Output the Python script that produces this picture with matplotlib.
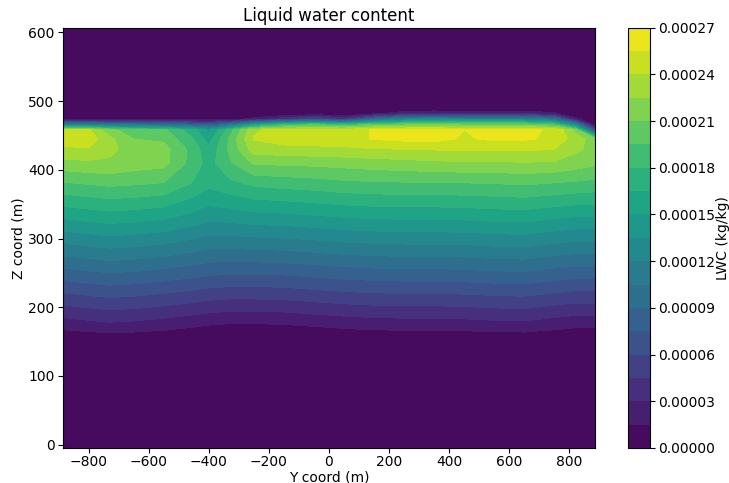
import numpy as np
import matplotlib.pyplot as plt

# horizontal (Y) and vertical (Z) positions of the sampled columns / levels, in m
y_coord = [-885, -800, -730, -650, -550, -450, -400, -330, -250, -150, -50,
           50, 150, 250, 350, 450, 550, 650, 750, 820, 885]
z_coord = [-5, 150, 170, 250, 330, 380, 410, 430, 445, 458, 466, 474, 482, 490, 607]

# liquid water content in units of 1e-5 kg/kg, one row per z level
lwc_e5 = [
    [0.0] * 21,                                                        # z=-5
    [0.0] * 21,                                                        # z=150
    [1.75, 2.08, 2.33, 2.17, 1.83, 1.42, 1.17, 1.0, 1.0, 1.08, 1.33,
     1.58, 1.75, 1.83, 1.83, 1.92, 2.08, 2.17, 1.75, 1.5, 1.5],        # z=170
    [8.42, 8.75, 9.0, 8.83, 8.5, 8.08, 7.83, 7.67, 7.67, 7.75, 8.0,
     8.25, 8.42, 8.5, 8.5, 8.58, 8.75, 8.83, 8.42, 8.17, 8.17],        # z=250
    [15.08, 15.42, 15.67, 15.5, 15.17, 14.4, 13.9, 14.0, 14.3, 14.42, 14.67,
     14.92, 15.08, 15.17, 15.17, 15.25, 15.42, 15.5, 15.08, 14.83, 14.83],  # z=330
    [19.3, 19.6, 19.83, 19.67, 19.4, 17.8, 16.9, 17.6, 18.3, 18.6, 18.8,
     19.1, 19.25, 19.3, 19.3, 19.4, 19.5, 19.67, 19.4, 19.2, 19.0],    # z=380
    [22.0, 22.2, 22.3, 21.8, 21.5, 18.8, 17.4, 19.3, 21.2, 21.3, 21.4,
     21.6, 21.8, 22.0, 22.2, 22.3, 22.3, 22.4, 22.3, 21.8, 21.3],      # z=410
    [23.7, 23.9, 22.8, 22.0, 21.6, 18.8, 16.8, 19.8, 23.2, 23.5, 23.6,
     23.7, 23.9, 24.0, 24.1, 24.2, 24.2, 24.2, 24.0, 22.8, 22.0],      # z=430
    [24.7, 24.8, 22.9, 21.0, 20.7, 18.0, 15.8, 19.8, 24.1, 24.7, 24.8,
     24.9, 25.6, 25.9, 26.0, 25.3, 25.8, 25.7, 25.2, 23.2, 21.8],      # z=445
    [24.2, 24.3, 21.5, 20.0, 19.8, 17.0, 14.5, 18.8, 23.8, 24.6, 24.8,
     24.9, 25.6, 26.0, 26.0, 25.5, 25.9, 25.8, 25.3, 22.0, 6.0],       # z=458
    [11.0, 11.0, 10.0, 10.0, 9.0, 8.0, 7.0, 10.0, 15.0, 18.0, 19.5,
     18.0, 20.0, 20.5, 21.0, 20.5, 20.5, 20.5, 19.0, 12.0, 0.0],       # z=466
    [0.6, 0.6, 0.5, 0.4, 0.3, 0.3, 0.3, 0.8, 2.0, 4.0, 6.0,
     4.0, 9.0, 12.0, 12.5, 12.0, 12.0, 12.0, 10.0, 2.0, 0.0],          # z=474
    [0.0, 0.0, 0.0, 0.0, 0.0, 0.0, 0.0, 0.0, 0.0, 0.0, 0.2,
     0.0, 1.0, 2.5, 2.8, 2.6, 2.4, 2.6, 1.8, 0.0, 0.0],                # z=482
    [0.0] * 21,                                                        # z=490
    [0.0] * 21,                                                        # z=607
]

levels = np.linspace(0, 0.00027, 19)
cbar_ticks = np.linspace(0, 0.00027, 10)

Y, Z = np.meshgrid(y_coord, z_coord)
lwc = np.array(lwc_e5) * 1e-5

fig = plt.figure(figsize=(7.29, 4.83), dpi=100)
ax = fig.add_axes([0.0864, 0.0725, 0.7298, 0.8702])
cax = fig.add_axes([0.8615, 0.0725, 0.0302, 0.8702])

cs = ax.contourf(Y, Z, lwc, levels=levels, cmap='viridis')
ax.set_xlim(-885, 885)
ax.set_ylim(-5, 607)
ax.set_xticks(np.arange(-800, 801, 200))
ax.set_yticks(np.arange(0, 601, 100))
ax.tick_params(labelsize=10)
ax.tick_params(axis='x', pad=1.5)
ax.tick_params(axis='y', pad=2.5)
ax.set_title('Liquid water content', fontsize=12, pad=5)
ax.set_xlabel('Y coord (m)', fontsize=10, labelpad=1)
ax.set_ylabel('Z coord (m)', fontsize=10, labelpad=2)

cb = fig.colorbar(cs, cax=cax, ticks=cbar_ticks, format='%.5f')
cb.ax.tick_params(labelsize=10, pad=2.5)
cb.set_label('LWC (kg/kg)', fontsize=10, labelpad=0)

fig.savefig('out.png', dpi=100)
